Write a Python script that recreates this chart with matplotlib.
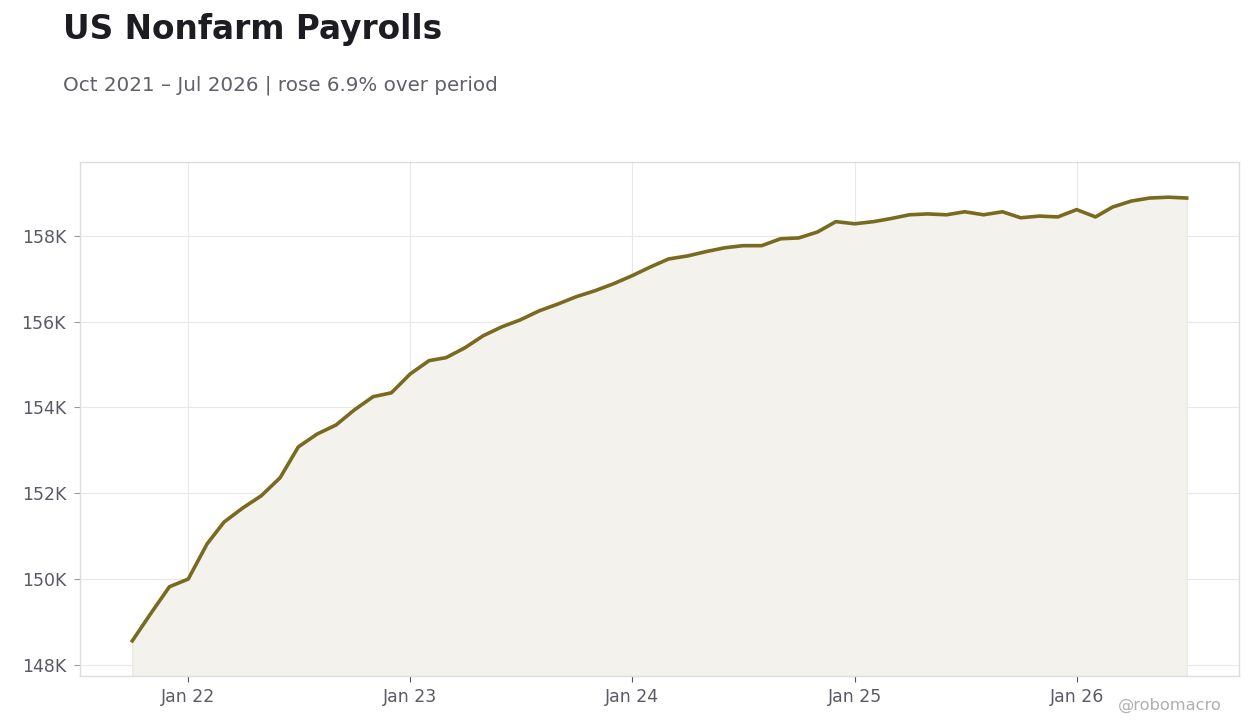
import matplotlib
matplotlib.use("Agg")
import matplotlib.pyplot as plt
import matplotlib.dates as mdates
import matplotlib.ticker as mticker
import pandas as pd

plt.rcParams["font.family"] = ["DejaVu Sans"]

# monthly payrolls, thousands (Oct 2021 .. Jul 2026)
months = pd.date_range("2021-10-01", "2026-07-01", freq="MS")
payrolls = [
    148.56, 149.21, 149.82, 150.00, 150.82, 151.33, 151.66, 151.94, 152.36, 153.08,
    153.38, 153.59, 153.94, 154.25, 154.34, 154.78, 155.09, 155.16, 155.39, 155.67,
    155.88, 156.04, 156.25, 156.41, 156.58, 156.72, 156.88, 157.07, 157.28, 157.46,
    157.53, 157.63, 157.72, 157.77, 157.77, 157.93, 157.95, 158.09, 158.33, 158.28,
    158.33, 158.40, 158.49, 158.51, 158.49, 158.56, 158.49, 158.56, 158.42, 158.46,
    158.44, 158.61, 158.44, 158.67, 158.81, 158.88, 158.90, 158.88,
]
payrolls = [v * 1000 for v in payrolls]

title = "US Nonfarm Payrolls"
subtitle = "Oct 2021 \u2013 Jul 2026 | rose 6.9% over period"

line_col = "#7a6a1f"
fill_col = "#f3f2ed"

fig = plt.figure(figsize=(12.6, 7.28), dpi=100)
ax = fig.add_axes([80 / 1260, 1 - 676 / 728, 1159 / 1260, 514 / 728])

ax.fill_between(months, payrolls, 147000, facecolor=fill_col,
                edgecolor="#e8e6dc", lw=0.8, zorder=1)
ax.plot(months, payrolls, color=line_col, lw=2.6, zorder=3)

ax.set_ylim(147740, 159720)
ax.set_xlim(mdates.date2num(months[0]) - 86, mdates.date2num(months[-1]) + 86)

ax.yaxis.set_major_locator(mticker.MultipleLocator(2000))
ax.yaxis.set_major_formatter(mticker.FuncFormatter(lambda v, p: f"{v/1000:.0f}K"))
ax.xaxis.set_major_locator(mdates.YearLocator(month=1, day=1))
ax.xaxis.set_major_formatter(mdates.DateFormatter("Jan %y"))

ax.grid(True, color="#e8e8e8", lw=0.8, zorder=0)
ax.set_axisbelow(True)
for s in ax.spines.values():
    s.set_color("#dddddd")
    s.set_linewidth(1)
ax.tick_params(axis="y", length=4, width=0.8, color="#999999", labelsize=12.5,
               labelcolor="#5a5a66", pad=6)
ax.tick_params(axis="x", length=4, width=0.8, color="#555555", labelsize=12.5,
               labelcolor="#5a5a66", pad=5)

fig.text(63 / 1260, 1 - 30 / 728, title, fontsize=23.6, fontweight="bold",
         color="#1c1c22", va="center", ha="left")
fig.text(63 / 1260, 1 - 85 / 728, subtitle, fontsize=14.3, color="#60606a",
         va="center", ha="left")
fig.text(1222 / 1260, 1 - 705 / 728, "@robomacro", fontsize=11.7, color="#b0b0b0",
         va="center", ha="right")

fig.savefig("out.png", dpi=100)
